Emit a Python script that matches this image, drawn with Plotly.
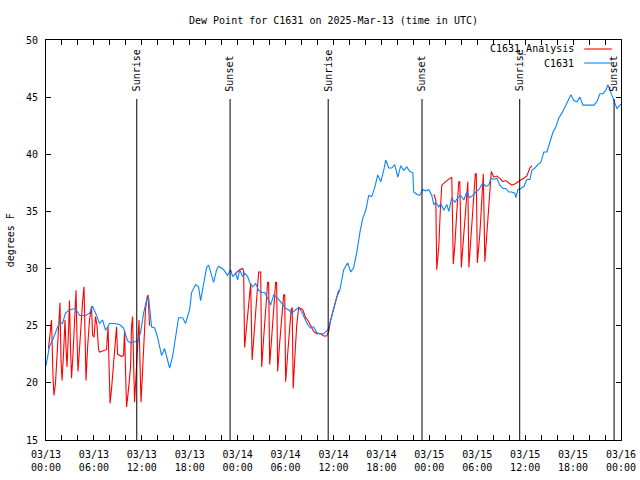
import plotly.graph_objects as go
import pandas as pd

START = pd.Timestamp("2025-03-13 00:00")

# Observed dew point (C1631): hours since 2025-03-13 00:00 UTC, degrees F
obs_hours = [0.0, 0.44, 0.81, 1.19, 1.69, 2.07, 2.44, 2.94, 3.70, 4.20, 4.95, 5.45, 5.83, 6.33, 6.70,
             7.08, 7.46, 7.96, 8.58, 9.21, 9.71, 10.21, 10.59, 10.96, 11.47, 11.84, 12.22, 12.59, 12.84,
             13.22, 13.60, 13.97, 14.22, 14.47, 14.85, 15.23, 15.48, 15.85, 16.23, 16.60, 17.11, 17.48,
             17.98, 18.23, 18.73, 19.10, 19.36, 19.74, 20.11, 20.36, 20.74, 20.99, 21.37, 21.62, 22.24,
             22.74, 23.12, 23.37, 23.75, 24.00, 24.25, 24.62, 24.87, 25.25, 25.50, 25.88, 26.25, 26.63,
             27.01, 27.38, 27.76, 28.13, 28.51, 28.88, 29.26, 29.64, 30.01, 30.39, 30.76, 31.27, 31.64,
             32.02, 32.39, 32.77, 33.15, 33.52, 33.90, 34.27, 34.77, 35.28, 35.65, 36.03, 36.40, 36.78,
             37.28, 37.78, 38.16, 38.53, 38.91, 39.29, 39.66, 40.04, 40.41, 40.79, 41.17, 41.54, 41.92,
             42.29, 42.54, 42.92, 43.30, 43.67, 44.05, 44.42, 44.80, 45.18, 45.55, 45.93, 46.05, 46.43,
             46.80, 47.18, 47.56, 47.93, 48.31, 48.56, 48.81, 49.19, 49.44, 49.81, 50.19, 50.44, 50.81,
             51.19, 51.57, 51.94, 52.32, 52.69, 53.07, 53.45, 53.82, 54.20, 54.70, 55.08, 55.45, 55.70,
             56.08, 56.45, 56.83, 57.21, 57.58, 57.96, 58.33, 58.71, 58.83, 59.09, 59.46, 59.84, 60.21,
             60.59, 60.84, 61.21, 61.59, 61.97, 62.34, 62.72, 63.10, 63.47, 63.85, 64.22, 64.60, 64.97,
             65.35, 65.73, 66.10, 66.48, 66.85, 67.23, 67.61, 68.11, 68.61, 68.98, 69.36, 69.74, 70.11,
             70.36, 70.74, 71.12, 71.49, 71.87, 72.0]
obs_values = [21.5, 23.2, 23.7, 24.4, 25.3, 25.2, 26.1, 26.4, 26.5, 25.9, 25.9, 26.1, 26.7, 25.9, 25.2,
              25.5, 24.6, 25.2, 25.2, 25.1, 24.8, 23.7, 23.5, 23.6, 23.6, 24.4, 26.1, 27.2, 27.5,
              24.9, 24.8, 24.0, 23.1, 22.4, 23.0, 22.0, 21.3, 22.3, 23.9, 25.7, 25.7, 25.2,
              26.4, 27.9, 28.6, 28.4, 27.2, 28.7, 30.1, 30.3, 29.4, 28.8, 29.9, 30.2, 29.9,
              29.4, 29.9, 29.3, 29.6, 29.0, 29.9, 29.3, 29.6, 29.3, 28.8, 28.4, 28.7, 28.1,
              27.9, 27.9, 27.4, 26.8, 27.7, 27.5, 27.2, 26.8, 26.5, 26.4, 26.1, 26.4, 26.6,
              26.2, 25.7, 25.1, 24.8, 24.9, 24.4, 24.3, 24.3, 24.6, 25.5, 26.4, 27.5, 28.1,
              29.9, 30.5, 29.7, 30.1, 31.4, 33.1, 34.4, 35.1, 36.4, 36.3, 37.1, 38.2, 37.6,
              38.6, 39.5, 38.8, 38.8, 39.1, 38.0, 39.0, 38.6, 38.9, 38.5, 38.4, 36.7, 36.5,
              36.4, 36.9, 36.8, 36.9, 36.4, 35.6, 35.8, 35.4, 35.7, 35.1, 35.6, 35.0, 36.2,
              35.8, 36.2, 36.4, 36.0, 36.7, 36.2, 36.4, 36.7, 36.9, 37.5, 37.2, 37.3, 37.9,
              37.8, 37.9, 37.3, 37.0, 37.0, 36.7, 36.7, 36.6, 36.2, 36.9, 37.0, 37.2, 37.8,
              37.8, 38.6, 38.8, 39.1, 39.3, 40.2, 40.2, 41.1, 41.9, 42.4, 43.2, 43.6, 44.1,
              44.6, 45.2, 44.7, 44.6, 45.0, 44.3, 44.3, 44.3, 44.3, 44.6, 45.3, 45.3, 45.6,
              46.1, 45.4, 44.6, 44.0, 44.3, 44.4]

# Analysis (C1631_Analysis), three periods
ana_hours_1 = [0.31, 0.56, 0.69, 0.88, 1.00, 1.19, 1.38, 1.57, 1.75, 1.88, 2.01, 2.19, 2.38, 2.51, 2.63,
               2.82, 2.94, 3.07, 3.20, 3.38, 3.57, 3.76, 3.88, 4.01, 4.20, 4.39, 4.57, 4.76, 4.89, 5.01,
               5.20, 5.45, 5.70, 5.83, 6.02, 6.20, 6.39, 6.58, 6.70, 7.58, 7.77, 7.89, 8.02, 8.21, 8.46,
               8.71, 8.83, 8.96, 9.46, 9.71, 9.84, 9.96, 10.09, 10.34, 10.59, 10.71, 10.84, 10.96, 11.09,
               11.34, 11.53, 11.65, 11.78, 11.90, 12.09, 12.28, 12.47, 12.66, 12.78, 12.97]
ana_values_1 = [23.0, 24.4, 25.5, 20.5, 18.9, 20.0, 22.5, 24.0, 27.0, 22.0, 20.2, 22.5, 25.5, 23.0, 21.4,
                24.5, 27.2, 23.0, 20.4, 22.5, 25.0, 28.1, 24.0, 21.0, 23.0, 25.5, 27.0, 28.4, 24.0, 20.2,
                23.0, 25.5, 26.7, 24.2, 24.0, 25.8, 25.0, 22.9, 22.7, 22.9, 24.9, 21.0, 18.2, 19.5, 21.5,
                23.5, 24.9, 22.5, 22.3, 22.4, 24.6, 21.0, 17.9, 19.5, 21.4, 24.9, 25.8, 22.0, 18.3,
                21.5, 24.5, 25.5, 21.5, 18.3, 21.0, 24.5, 26.5, 27.5, 27.7, 25.0]

ana_hours_2 = [23.75, 24.25, 24.62, 24.75, 24.87, 25.13, 25.38, 25.63, 25.81, 26.07, 26.38, 26.63, 26.88,
               27.01, 27.26, 27.51, 27.76, 27.88, 28.01, 28.26, 28.51, 28.76, 28.88, 29.01, 29.26, 29.51,
               29.76, 29.89, 30.01, 30.26, 30.51, 30.70, 30.83, 30.95, 31.14, 31.39, 31.64, 32.14, 32.52,
               32.77, 33.15, 33.52, 33.90, 34.40, 34.77, 35.15, 35.40, 35.65, 36.03, 36.40, 36.65]
ana_values_2 = [29.6, 29.9, 30.0, 29.8, 23.1, 25.0, 27.5, 28.7, 22.0, 24.5, 27.5, 29.7, 29.7,
                21.4, 24.0, 26.5, 28.8, 28.8, 21.6, 24.0, 26.5, 28.8, 28.8, 21.0, 23.5, 25.8,
                27.7, 27.7, 20.1, 22.5, 25.0, 26.4, 26.6, 19.5, 22.0, 25.0, 26.6, 26.4, 25.7,
                25.5, 25.0, 24.5, 24.3, 24.3, 24.1, 24.1, 24.5, 25.5, 26.5, 27.5, 28.1]

ana_hours_3 = [48.56, 48.81, 48.93, 49.19, 49.37, 49.56, 50.19, 50.81, 51.00, 51.19, 51.44, 51.69, 51.82,
               52.01, 52.26, 52.57, 52.82, 52.95, 53.20, 53.45, 53.76, 53.88, 54.01, 54.32, 54.57, 54.76,
               54.95, 55.20, 55.51, 55.76, 56.08, 56.45, 56.83, 57.21, 57.58, 57.96, 58.33, 58.71, 59.09,
               59.34, 59.84, 60.21, 60.59, 60.84]
ana_values_3 = [36.5, 36.0, 29.9, 32.0, 35.0, 37.3, 37.7, 38.0, 30.4, 32.0, 35.0, 37.6, 37.6,
                30.1, 32.5, 35.5, 37.6, 30.1, 32.5, 35.5, 38.3, 38.3, 30.5, 33.0, 36.0, 38.3,
                30.6, 33.0, 36.0, 38.5, 38.0, 38.1, 37.9, 37.6, 37.7, 37.5, 37.3, 37.4, 37.6,
                37.7, 37.9, 38.1, 38.8, 39.0]

sun_times = ["2025-03-13 11:22", "2025-03-13 23:03", "2025-03-14 11:20",
             "2025-03-14 23:05", "2025-03-15 11:19", "2025-03-15 23:08"]
sun_labels = ["Sunrise", "Sunset", "Sunrise", "Sunset", "Sunrise", "Sunset"]

tick_hours = list(range(0, 73, 6))
tick_text = ["03/13<br>00:00", "03/13<br>06:00", "03/13<br>12:00", "03/13<br>18:00",
             "03/14<br>00:00", "03/14<br>06:00", "03/14<br>12:00", "03/14<br>18:00",
             "03/15<br>00:00", "03/15<br>06:00", "03/15<br>12:00", "03/15<br>18:00",
             "03/16<br>00:00"]
y_ticks = [15, 20, 25, 30, 35, 40, 45, 50]

RED = "#ff0000"
BLUE = "#0a84ff"
FONT = "DejaVu Sans Mono"
FS = 10


def to_time(hours):
    return [START + pd.Timedelta(hours=h) for h in hours]


fig = go.Figure()
for hrs, vals in [(ana_hours_1, ana_values_1), (ana_hours_2, ana_values_2), (ana_hours_3, ana_values_3)]:
    fig.add_trace(go.Scatter(x=to_time(hrs), y=vals, mode="lines",
                             line=dict(color=RED, width=1.1), showlegend=False,
                             name="C1631_Analysis"))
fig.add_trace(go.Scatter(x=to_time(obs_hours), y=obs_values, mode="lines",
                         line=dict(color=BLUE, width=1.1), showlegend=False, name="C1631"))

for t, lab in zip(sun_times, sun_labels):
    fig.add_shape(type="line", xref="x", yref="paper", x0=t, x1=t, y0=0, y1=0.8525,
                  line=dict(color="black", width=1))
    fig.add_annotation(x=t, y=0.866, xref="x", yref="paper", text=lab, textangle=-90,
                       showarrow=False, xanchor="center", yanchor="bottom",
                       font=dict(family=FONT, size=FS, color="black"))

# legend (text left of sample lines)
for i, (name, col) in enumerate([("C1631_Analysis", RED), ("C1631", BLUE)]):
    yy = 1 - (9 + 14 * i) / 400
    fig.add_annotation(x=0.921, y=yy, xref="paper", yref="paper", text=name, showarrow=False,
                       xanchor="right", yanchor="middle",
                       font=dict(family=FONT, size=FS, color="black"))
    fig.add_shape(type="line", xref="paper", yref="paper", x0=0.936, x1=0.984, y0=yy, y1=yy,
                  line=dict(color=col, width=1.1))

fig.add_annotation(x=-0.062, y=0.5, xref="paper", yref="paper", text="degrees F", textangle=-90,
                   showarrow=False, xanchor="center", yanchor="middle",
                   font=dict(family=FONT, size=FS, color="black"))

fig.update_layout(
    width=640, height=480,
    margin=dict(l=46, r=19, t=40, b=40, autoexpand=False),
    paper_bgcolor="white", plot_bgcolor="white",
    font=dict(family=FONT, size=FS, color="black"),
    title=dict(text="Dew Point for C1631 on 2025-Mar-13 (time in UTC)", x=0.5, xref="paper",
               xanchor="center", y=1 - 20 / 480, yanchor="middle",
               font=dict(family=FONT, size=FS, color="black")),
    showlegend=False,
    hovermode=False,
)
fig.update_xaxes(
    range=[START, START + pd.Timedelta(hours=72)],
    tickvals=to_time(tick_hours), ticktext=tick_text,
    ticks="inside", ticklen=5, tickcolor="black", tickwidth=1,
    minor=dict(dtick=2 * 3600 * 1000, ticks="inside", ticklen=5, tickcolor="black", tickwidth=1),
    showline=True, linecolor="black", linewidth=1, mirror="ticks",
    showgrid=False, zeroline=False, automargin=False, ticklabelstandoff=5,
    tickfont=dict(family=FONT, size=FS, color="black"),
)
fig.update_yaxes(
    range=[15, 50], tickvals=y_ticks,
    ticks="inside", ticklen=5, tickcolor="black", tickwidth=1,
    showline=True, linecolor="black", linewidth=1, mirror="ticks",
    showgrid=False, zeroline=False, automargin=False, ticklabelstandoff=5,
    tickfont=dict(family=FONT, size=FS, color="black"),
)

fig.write_html("out.html", config={"displayModeBar": False},
               post_script="document.body.style.margin='0';document.body.style.overflow='hidden';")
